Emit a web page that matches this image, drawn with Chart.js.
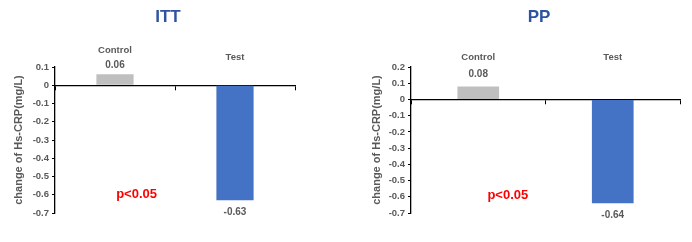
<!DOCTYPE html>
<html><head><meta charset="utf-8">
<script src="https://cdn.jsdelivr.net/npm/chart.js@4/dist/chart.umd.min.js"></script>
<style>
html,body{margin:0;padding:0;background:#fff;}
.wrap{position:absolute;top:0;width:346px;height:242px;}
</style></head>
<body>
<div class="wrap" style="left:0"><canvas id="c1"></canvas></div>
<div class="wrap" style="left:346px"><canvas id="c2"></canvas></div>
<script>
const categories = ['Control', 'Test'];
const ittValues = [0.06, -0.63];
const ppValues = [0.08, -0.64];
const ittTitle = 'ITT';
const ppTitle = 'PP';
const yAxisTitle = 'change of Hs-CRP(mg/L)';
const pLabel = 'p<0.05';
const barColors = ['#BFBFBF', '#4472C4'];

const FONT = '"Liberation Sans", Arial, sans-serif';
const GREY = '#595959';

const annot = {
  id: 'annot',
  afterDatasetsDraw(chart, args, o) {
    const ctx = chart.ctx, x = chart.scales.x, y = chart.scales.y;
    const meta = chart.getDatasetMeta(0);
    ctx.save();
    ctx.textAlign = 'center'; ctx.textBaseline = 'middle';
    // title
    ctx.fillStyle = '#2E54A0';
    ctx.font = 'bold 17px ' + FONT;
    ctx.fillText(o.title, o.titleX, 17);
    meta.data.forEach((bar, i) => {
      const v = chart.data.datasets[0].data[i];
      ctx.fillStyle = GREY;
      ctx.font = 'bold 10px ' + FONT;
      const yl = v >= 0 ? bar.y - o.posOff : bar.y + 12;
      ctx.fillText(v.toFixed(2), bar.x, yl);
      ctx.font = 'bold 9.5px ' + FONT;
      ctx.fillText(chart.data.labels[i], bar.x, o.catY[i]);
    });
    ctx.fillStyle = '#FF0000';
    ctx.font = 'bold 13px ' + FONT;
    ctx.fillText(pLabel, x.getPixelForValue(o.pX), y.getPixelForValue(o.pY));
    ctx.restore();
  }
};

function make(id, values, ymax, pad, yWidth, opts) {
  return new Chart(document.getElementById(id), {
    type: 'bar',
    data: { labels: categories, datasets: [{ data: values, backgroundColor: barColors, barPercentage: 0.31, categoryPercentage: 1 }] },
    options: {
      responsive: false, animation: false, devicePixelRatio: 1,
      layout: { padding: pad },
      plugins: { legend: { display: false }, tooltip: { enabled: false }, annot: opts },
      scales: {
        x: {
          position: { y: 0 },
          ticks: { display: false },
          grid: { offset: true, drawOnChartArea: false, drawTicks: true, tickLength: 4, color: '#000' },
          border: { color: '#000', width: 1.3 }
        },
        y: {
          min: -0.7, max: ymax,
          afterFit(s) { s.width = yWidth; },
          ticks: { stepSize: 0.1, color: GREY, font: { family: FONT, size: 9.5, weight: 'bold' }, padding: 3,
                   callback: v => { const r = Math.round(v * 10) / 10; return r === 0 ? '0' : String(r); } },
          grid: { drawOnChartArea: false, tickLength: 3, color: '#000' },
          border: { color: '#000', width: 1.3 },
          title: { display: true, text: yAxisTitle, color: GREY, font: { family: FONT, size: 11, weight: 'bold' }, padding: { top: 4, bottom: 2 } }
        }
      }
    },
    plugins: [annot]
  });
}
const c1 = document.getElementById('c1'); c1.width = 346; c1.height = 242;
const c2 = document.getElementById('c2'); c2.width = 346; c2.height = 242;
make('c1', ittValues, 0.1, { left: 8, right: 51, top: 67, bottom: 29 }, 47,
  { title: ittTitle, titleX: 168, posOff: 9, catY: [50, 57], pX: 0.18, pY: -0.6 });
make('c2', ppValues, 0.2, { left: 20, right: 12, top: 67, bottom: 29 }, 45,
  { title: ppTitle, titleX: 193, posOff: 12, catY: [57, 57], pX: 0.22, pY: -0.59 });
</script>
</body></html>
